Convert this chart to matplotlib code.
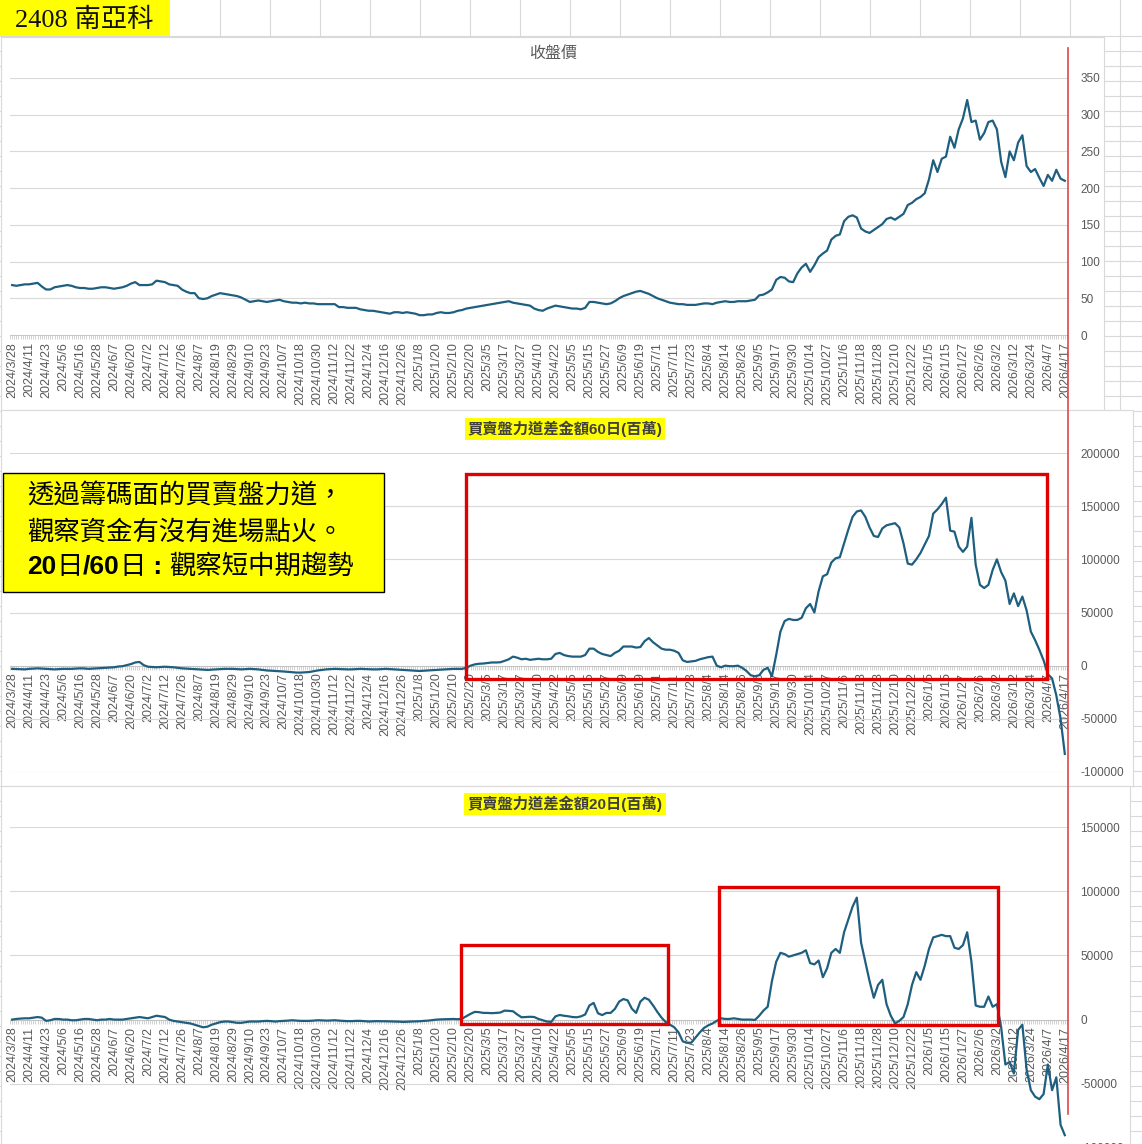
import matplotlib.pyplot as plt
import numpy as np
from matplotlib.patches import Rectangle
from matplotlib.ticker import MultipleLocator

plt.rcParams['font.family'] = ['Liberation Sans', 'Noto Sans CJK TC']

W, H = 1142, 1144

# category labels, one every 8 trading days
date_labels = ['2024/3/28', '2024/4/11', '2024/4/23', '2024/5/6', '2024/5/16', '2024/5/28',
               '2024/6/7', '2024/6/20', '2024/7/2', '2024/7/12', '2024/7/26', '2024/8/7',
               '2024/8/19', '2024/8/29', '2024/9/10', '2024/9/23', '2024/10/7', '2024/10/18',
               '2024/10/30', '2024/11/12', '2024/11/22', '2024/12/4', '2024/12/16', '2024/12/26',
               '2025/1/8', '2025/1/20', '2025/2/10', '2025/2/20', '2025/3/5', '2025/3/17',
               '2025/3/27', '2025/4/10', '2025/4/22', '2025/5/5', '2025/5/15', '2025/5/27',
               '2025/6/9', '2025/6/19', '2025/7/1', '2025/7/11', '2025/7/23', '2025/8/4',
               '2025/8/14', '2025/8/26', '2025/9/5', '2025/9/17', '2025/9/30', '2025/10/14',
               '2025/10/27', '2025/11/6', '2025/11/18', '2025/11/28', '2025/12/10', '2025/12/22',
               '2026/1/5', '2026/1/15', '2026/1/27', '2026/2/6', '2026/3/2', '2026/3/12',
               '2026/3/24', '2026/4/7', '2026/4/17']

# values, one every 2 trading days
close = [68, 67, 68, 69, 69, 70, 71, 66, 62, 62,
         65, 66, 67, 68, 67, 65, 64, 64, 63, 63,
         64, 65, 65, 64, 63, 64, 65, 67, 70, 72,
         68, 68, 68, 69, 74, 73, 72, 69, 68, 67,
         62, 59, 57, 57, 50, 49, 50, 53, 55, 57,
         56, 55, 54, 53, 51, 48, 45, 46, 47, 46,
         45, 46, 47, 48, 46, 45, 44, 44, 43, 44,
         43, 43, 42, 42, 42, 42, 42, 38, 38, 37,
         37, 37, 35, 34, 33, 33, 32, 31, 30, 29,
         31, 31, 30, 31, 30, 29, 27, 27, 28, 28,
         30, 31, 30, 30, 31, 33, 34, 36, 37, 38,
         39, 40, 41, 42, 43, 44, 45, 46, 44, 43,
         42, 41, 40, 36, 34, 33, 36, 38, 40, 39,
         38, 37, 36, 36, 35, 37, 45, 45, 44, 43,
         42, 43, 46, 50, 53, 55, 57, 59, 60, 58,
         56, 53, 50, 48, 46, 44, 43, 42, 42, 41,
         41, 41, 42, 43, 43, 42, 44, 45, 46, 45,
         45, 46, 46, 46, 47, 48, 54, 55, 58, 62,
         75, 79, 78, 73, 72, 84, 92, 97, 86, 95,
         106, 111, 115, 130, 135, 137, 155, 161, 163, 160,
         145, 141, 139, 143, 147, 151, 158, 160, 157, 161,
         165, 177, 180, 185, 188, 193, 212, 238, 222, 240,
         243, 270, 255, 280, 295, 320, 290, 292, 266, 275,
         290, 292, 280, 236, 215, 250, 238, 262, 272, 230,
         222, 226, 214, 203, 218, 210, 225, 213, 210]

flow60 = [-3000, -3200, -3500, -3500, -3000, -2800, -2500, -2800, -3000, -3200,
          -3500, -3200, -3000, -3000, -3000, -2800, -2500, -2600, -3000, -2800,
          -2500, -2200, -2000, -1800, -1500, -800, -500, 500, 1500, 3000,
          3500, 500, -1000, -1200, -1500, -1200, -1000, -1200, -1500, -2000,
          -2500, -2800, -3000, -3200, -3500, -3800, -4000, -3800, -3500, -3200,
          -3000, -3000, -3000, -3200, -3500, -3200, -3000, -3200, -3500, -4000,
          -4500, -4800, -5000, -5200, -5500, -5800, -6000, -6500, -6500, -6200,
          -6000, -5200, -4500, -4000, -3500, -3200, -3000, -3200, -3500, -3500,
          -3500, -3200, -3000, -3200, -3500, -3500, -3500, -3200, -3000, -3200,
          -3500, -3800, -4000, -4200, -4500, -4800, -5000, -4800, -4500, -4200,
          -4000, -3800, -3500, -3200, -3000, -3000, -3000, -2000, 0, 1200,
          1800, 2000, 2500, 3000, 3000, 3200, 4500, 6000, 8500, 7500,
          6000, 6500, 5500, 6000, 6500, 6000, 6000, 6500, 11000, 12000,
          10000, 9000, 8500, 8500, 8500, 10000, 16000, 16000, 13000, 11000,
          10000, 9000, 12000, 14000, 18000, 18000, 18000, 17000, 17500, 23000,
          26000, 22000, 19000, 16000, 15000, 15000, 14000, 12000, 5000, 3500,
          4000, 4500, 6000, 7000, 8000, 8500, 0, -1500, 0, -500,
          -500, 0, -2000, -5000, -9000, -10000, -9000, -4000, -2000, -10000,
          10000, 32000, 42000, 44000, 43000, 43000, 45000, 54000, 58000, 50000,
          70000, 84000, 86000, 97000, 101000, 102000, 115000, 128000, 140000, 145000,
          146000, 140000, 130000, 122000, 121000, 129000, 132000, 133000, 134000, 130000,
          115000, 96000, 95000, 100000, 106000, 114000, 122000, 143000, 147000, 152000,
          158000, 127000, 126000, 112000, 107000, 112000, 139000, 95000, 76000, 73000,
          76000, 90000, 100000, 88000, 80000, 58000, 68000, 56000, 65000, 52000,
          32000, 24000, 15000, 5000, -8000, -12000, -28000, -50000, -83000]

flow20 = [0, 500, 800, 1000, 1000, 1500, 2000, 1500, -1000, -500,
          500, 500, 0, 0, -500, -500, 0, 500, 500, 0,
          -500, 0, 0, 500, 0, 0, 0, 500, 1000, 1500,
          2000, 1500, 1000, 2000, 3000, 2500, 2000, 0, -1000, -1500,
          -2000, -2500, -3000, -4000, -5000, -6000, -5500, -4000, -3000, -2000,
          -1500, -1500, -2000, -2500, -2500, -2000, -1500, -1500, -1500, -1200,
          -1000, -1200, -1500, -1200, -1000, -800, -500, -800, -1000, -1000,
          -1000, -800, -500, -600, -800, -700, -500, -800, -1000, -1200,
          -1200, -1000, -1000, -1200, -1500, -1300, -1200, -1300, -1300, -1400,
          -1500, -1600, -1800, -1700, -1500, -1400, -1300, -1000, -800, -400,
          0, 200, 300, 400, 500, 300, 800, 2600, 4500, 6000,
          5800, 5200, 5200, 5000, 5200, 5500, 7000, 6800, 6500, 4000,
          1800, 2000, 2200, 2000, 500, -500, -1500, -1800, 2500, 3600,
          3000, 2600, 2000, 1800, 2500, 4000, 11000, 13000, 5000, 3500,
          5200, 5200, 8300, 14000, 16000, 15000, 8500, 5200, 14000, 17000,
          15500, 11000, 6000, 1500, -2000, -4000, -6000, -10000, -17000, -18000,
          -18000, -14000, -10000, -6500, -4500, -3000, -1000, 1000, 500, 500,
          1000, 500, 0, 0, 0, -300, 3000, 7000, 10000, 30000,
          45000, 52000, 51000, 49000, 50000, 51000, 52000, 54000, 44000, 43000,
          46000, 33000, 40000, 52000, 55000, 52000, 68000, 78000, 88000, 95000,
          60000, 45000, 30000, 17000, 27000, 31000, 12000, 3000, -3000, -1000,
          2000, 12000, 27000, 37000, 31000, 42000, 55000, 64000, 65000, 66000,
          65000, 65000, 56000, 55000, 58000, 68000, 45000, 11000, 10000, 10000,
          18000, 10000, 12000, -6000, -35000, -33000, -42000, -8000, -4000, -39000,
          -55000, -60000, -62000, -58000, -35000, -55000, -45000, -82000, -90000]

STEP = 2
LABEL_EVERY = 8
n_days = (len(date_labels) - 1) * LABEL_EVERY + 1
xs = np.arange(len(close)) * STEP

LINE = '#1e5f80'
GRID = '#d9d9d9'
TXT = '#595959'
RED = '#e00000'

fig = plt.figure(figsize=(W / 100, H / 100), dpi=100)


def rect_px(x0, y0, x1, y1):
    return [x0 / W, 1 - y1 / H, (x1 - x0) / W, (y1 - y0) / H]


#===== spreadsheet behind the charts ================
bg = fig.add_axes([0, 0, 1, 1])
bg.set_xlim(0, W)
bg.set_ylim(H, 0)
bg.axis('off')
for y in np.arange(36, H, 15):
    bg.plot([0, W], [y, y], color=GRID, lw=0.8, zorder=0.5)
for x in np.arange(220, W, 50):
    bg.plot([x, x], [0, H], color=GRID, lw=0.8, zorder=0.5)
bg.add_patch(Rectangle((0, 0), 170, 36, fc='#ffff00', ec='none', zorder=1))
bg.text(15, 20, '2408 南亞科', family=['Liberation Serif', 'Noto Sans CJK TC'],
        fontsize=19, va='center', color='#111111', zorder=3)
for (x0, y0, x1, y1) in [(1, 37, 1104, 410), (1, 410, 1133, 786), (1, 786, 1130, 1180)]:
    bg.add_patch(Rectangle((x0, y0), x1 - x0, y1 - y0, fc='white', ec=GRID, lw=0.8, zorder=2))


#===== the three line charts ================
def line_chart(box, values, lo, hi, step):
    ax = fig.add_axes(rect_px(*box))
    ax.set_facecolor('none')
    ax.plot(xs, values, color=LINE, lw=1.6, solid_joinstyle='round', zorder=3)
    ax.set_xlim(-1, n_days + 0.5)
    ax.set_ylim(lo, hi)
    ticks = np.arange(lo, hi + 1, step)
    ax.set_yticks(ticks)
    ax.set_yticklabels([str(int(t)) for t in ticks])
    ax.yaxis.tick_right()
    ax.tick_params(axis='y', length=0, pad=9, labelsize=8.5, labelcolor=TXT)
    ax.grid(axis='y', color=GRID, lw=0.8)
    ax.set_axisbelow(True)
    for s in ['top', 'left', 'right']:
        ax.spines[s].set_visible(False)
    ax.spines['bottom'].set_position(('data', 0))
    ax.spines['bottom'].set_color('#bfbfbf')
    ax.spines['bottom'].set_linewidth(0.6)
    ax.set_xticks(np.arange(0, n_days, LABEL_EVERY))
    ax.set_xticklabels(date_labels, rotation=90)
    ax.xaxis.set_minor_locator(MultipleLocator(1))
    ax.tick_params(axis='x', which='both', length=3, width=0.5, color='#bfbfbf',
                   direction='out', pad=2, labelsize=9, labelcolor=TXT)
    return ax


line_chart((10, 78, 1068, 335), close, 0, 350, 50)
line_chart((10, 453, 1068, 772), flow60, -100000, 200000, 50000)
line_chart((10, 827, 1068, 1148), flow20, -100000, 150000, 50000)

#===== titles, boxes, notes on top ================
ov = fig.add_axes([0, 0, 1, 1])
ov.set_xlim(0, W)
ov.set_ylim(H, 0)
ov.axis('off')

ov.text(553, 53, '收盤價', fontsize=11.5, color=TXT, ha='center', va='center')
ybox = dict(boxstyle='square,pad=0.2', fc='#ffff00', ec='none')
ov.text(565, 429, '買賣盤力道差金額60日(百萬)', fontsize=11, weight='bold', color='#404040',
        ha='center', va='center', bbox=ybox)
ov.text(565, 804, '買賣盤力道差金額20日(百萬)', fontsize=11, weight='bold', color='#404040',
        ha='center', va='center', bbox=ybox)

for (x0, y0, x1, y1) in [(466, 474, 1047, 679), (461, 945, 668, 1024), (719, 887, 998, 1025)]:
    ov.add_patch(Rectangle((x0, y0), x1 - x0, y1 - y0, fc='none', ec=RED, lw=2.4))

ov.plot([1068, 1068], [48, 1114], color='#e04848', lw=1.2)

# note box
ov.add_patch(Rectangle((3, 473), 381, 119, fc='#ffff00', ec='black', lw=1))
serif = ['Liberation Serif', 'Noto Sans CJK TC']
ov.text(27, 496, '透過籌碼面的買賣盤力道，', family=serif, fontsize=19, va='center')
ov.text(27, 532, '觀察資金有沒有進場點火。', family=serif, fontsize=19, va='center')

renderer = fig.canvas.get_renderer()
x = 27
for part, wt in [('20', 'bold'), ('日', 'normal'), ('/60', 'bold'), ('日', 'normal'),
                 (' : ', 'bold'), ('觀察短中期趨勢', 'normal')]:
    t = ov.text(x, 567, part, fontsize=19, weight=wt, va='center')
    x += t.get_window_extent(renderer=renderer).width

fig.savefig('out.png', dpi=100)
